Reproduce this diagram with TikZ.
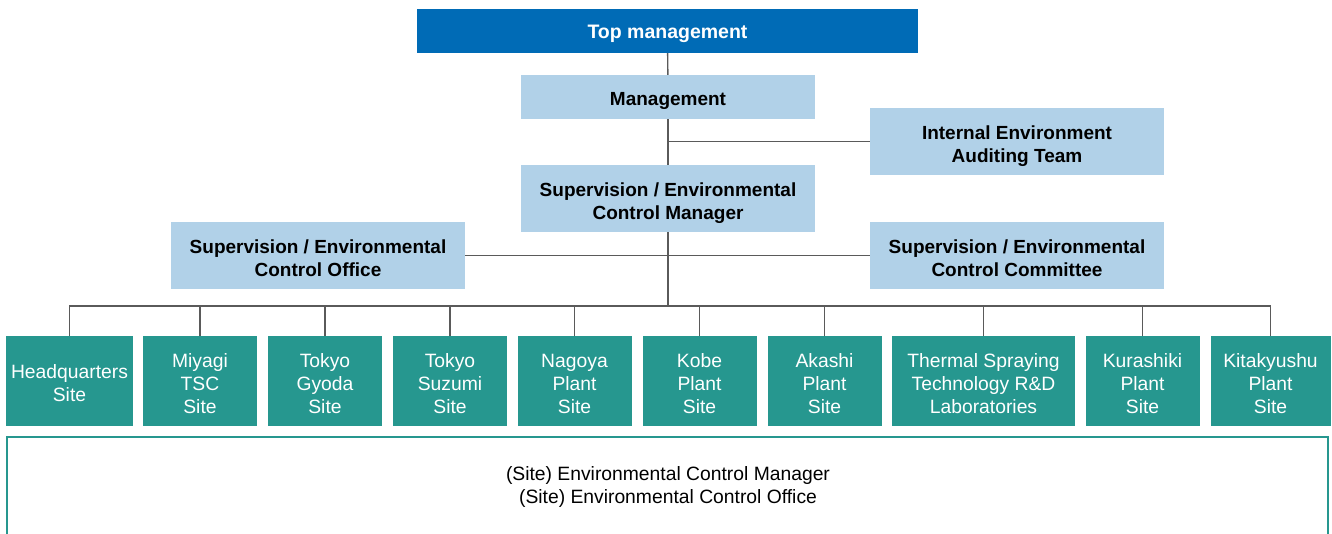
\documentclass[tikz,border=0pt]{standalone}
\usepackage{fontspec}
\setmainfont{Liberation Sans}
\definecolor{topblue}{HTML}{006BB6}
\definecolor{paleblue}{HTML}{B1D1E8}
\definecolor{siteteal}{HTML}{26978F}
\definecolor{linegray}{HTML}{5A5A5A}

\tikzset{
  topbox/.style={fill=topblue,text=white,inner sep=0pt,align=center,
    minimum width=501pt,minimum height=44pt,
    execute at begin node={\rule{0pt}{19pt}},
    font=\fontsize{19.5}{23}\selectfont\bfseries},
  mgmtbox/.style={fill=paleblue,text=black,inner sep=0pt,align=center,
    minimum width=294pt,minimum height=67pt,
    text height=41.5pt,text depth=0pt,
    font=\fontsize{19}{23}\selectfont\bfseries},
  sitebox/.style={fill=siteteal,text=white,inner sep=0pt,align=center,
    minimum width=114pt,minimum height=90pt,
    text height=64.5pt,text depth=0pt,
    font=\fontsize{19.3}{23}\selectfont},
  conn/.style={draw=linegray,line width=1.4pt}
}

\begin{document}
\begin{tikzpicture}[x=1pt,y=-1pt]
\useasboundingbox (0,0) rectangle (1332,534);
% upper part
\node[topbox] (top) at (667.5,31) {Top management};
\node[mgmtbox,minimum height=44pt,text height=17.5pt] (mgmt) at (668,97) {Management};
\node[mgmtbox] (audit) at (1017,141.5) {Internal Environment\\Auditing Team};
\node[mgmtbox] (mgr) at (668,198.5) {Supervision / Environmental\\Control Manager};
\node[mgmtbox] (office) at (318,255.5) {Supervision / Environmental\\Control Office};
\node[mgmtbox] (cmte) at (1017,255.5) {Supervision / Environmental\\Control Committee};
% sites
\node[sitebox,minimum width=127pt,text height=41.5pt] (hq) at (69.5,381) {Headquarters\\Site};
\node[sitebox] (miyagi) at (200,381) {Miyagi\\TSC\\Site};
\node[sitebox] (gyoda) at (325,381) {Tokyo\\Gyoda\\Site};
\node[sitebox] (suzumi) at (450,381) {Tokyo\\Suzumi\\Site};
\node[sitebox] (nagoya) at (574.5,381) {Nagoya\\Plant\\Site};
\node[sitebox] (kobe) at (699.5,381) {Kobe\\Plant\\Site};
\node[sitebox] (akashi) at (824.5,381) {Akashi\\Plant\\Site};
\node[sitebox,minimum width=183pt] (thermal) at (983.5,381) {Thermal Spraying\\Technology R\&D\\Laboratories};
\node[sitebox] (kurashiki) at (1142.5,381) {Kurashiki\\Plant\\Site};
\node[sitebox,minimum width=120pt] (kita) at (1270.5,381) {Kitakyushu\\Plant\\Site};
\coordinate (bus) at (668,306);
% connectors
\draw[conn] (top) -- (mgmt);
\draw[conn] (mgmt) -- (mgr);
\draw[conn] (audit.west) -- (audit.west -| mgr.north);
\draw[conn] (office.east) -- (cmte.west);
\draw[conn] (mgr.south) -- (bus);
\draw[conn] (hq.north) |- (bus) -| (kita.north);
\draw[conn] (miyagi.north) -- (miyagi.north |- bus);
\draw[conn] (gyoda.north) -- (gyoda.north |- bus);
\draw[conn] (suzumi.north) -- (suzumi.north |- bus);
\draw[conn] (nagoya.north) -- (nagoya.north |- bus);
\draw[conn] (kobe.north) -- (kobe.north |- bus);
\draw[conn] (akashi.north) -- (akashi.north |- bus);
\draw[conn] (thermal.north) -- (thermal.north |- bus);
\draw[conn] (kurashiki.north) -- (kurashiki.north |- bus);
% site level panel
\draw[siteteal,line width=2.2pt] (7,540) -- (7,437) -- (1328,437) -- (1328,540);
\node[align=center,font=\fontsize{19.3}{23.5}\selectfont] (sitepanel) at (668,487)
  {(Site) Environmental Control Manager\\(Site) Environmental Control Office};
\end{tikzpicture}
\end{document}
